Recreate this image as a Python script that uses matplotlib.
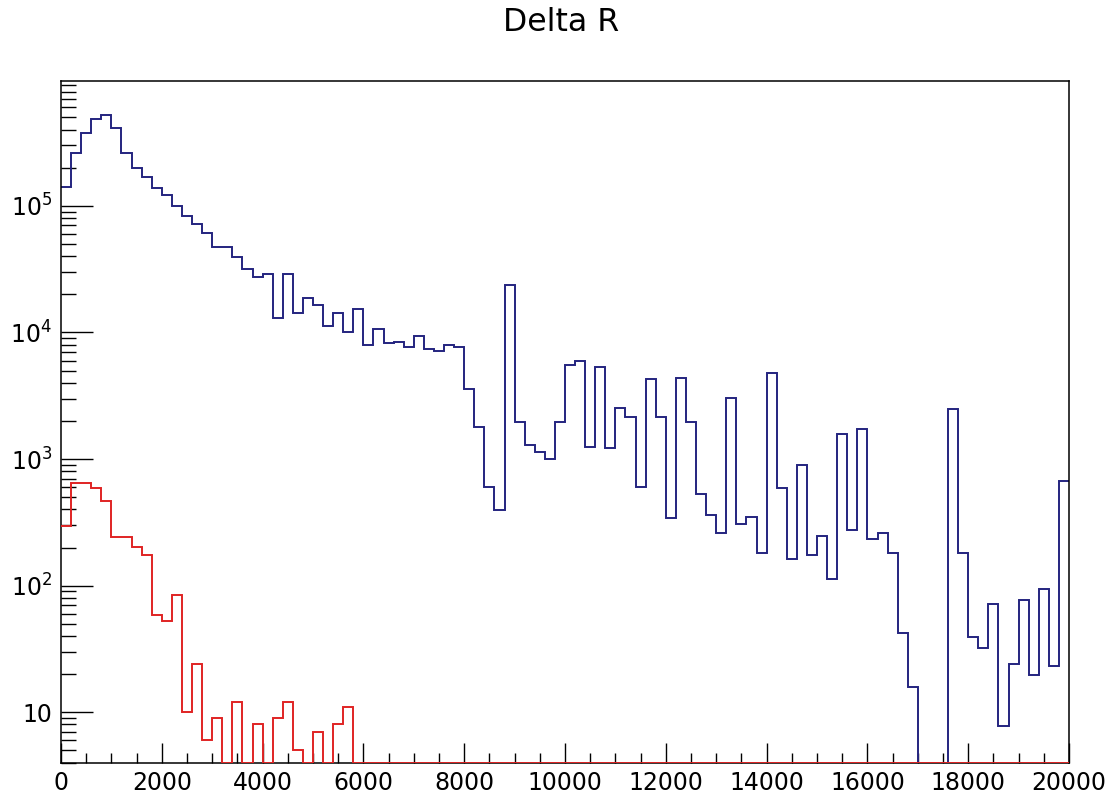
import numpy as np
from matplotlib import pyplot as plt
import matplotlib as mpl

plt.rcParams['font.family'] = ['DejaVu Sans']
plt.rcParams['mathtext.fontset'] = 'dejavusans'

# Histogram binning: 100 bins from 0 to 20000
X_MIN = 0
X_MAX = 20000
N_BINS = 100

# Blue histogram bin contents
blue_counts = [
    1.40e5, 2.6e5, 3.78e5, 4.85e5, 5.22e5, 4.15e5, 2.6e5, 2.0e5, 1.70e5, 1.39e5,
    1.22e5, 1.0e5, 8.3e4, 7.2e4, 6.08e4, 4.71e4, 4.71e4, 3.97e4, 3.18e4, 2.72e4,
    2.90e4, 1.29e4, 2.90e4, 1.43e4, 1.87e4, 1.64e4, 1.13e4, 1.43e4, 1.0e4, 1.53e4,
    7.96e3, 1.07e4, 8.22e3, 8.37e3, 7.73e3, 9.37e3, 7.41e3, 7.18e3, 7.96e3, 7.73e3,
    3.60e3, 1.79e3, 606, 396, 2.37e4, 1.97e3, 1.29e3, 1.14e3, 995, 1.97e3,
    5.53e3, 5.96e3, 1.25e3, 5.37e3, 1.22e3, 2.52e3, 2.14e3, 606, 4.27e3, 2.13e3,
    341, 4.37e3, 1.97e3, 530, 361, 259, 3.05e3, 306, 349, 180,
    4.82e3, 594, 163, 897, 175, 248, 113, 1.57e3, 275, 1.74e3,
    232, 259, 180, 42, 15.8, 0, 0, 0, 2.49e3, 180,
    39, 32.4, 71.3, 7.8, 24, 77, 19.7, 93.8, 23.3, 675,
]

# Red histogram bin contents (first 30 bins, rest empty)
red_counts = [
    296, 651, 651, 588, 467, 241, 241, 203, 175, 58.7,
    53, 84.5, 10, 24, 6, 9, 0, 12, 0, 8,
    0, 9, 12, 5, 0, 7, 0, 8, 11, 0,
] + [0] * 70

x_major = [0, 2000, 4000, 6000, 8000, 10000, 12000, 14000, 16000, 18000, 20000]
x_labels = ['0', '2000', '4000', '6000', '8000', '10000', '12000',
            '14000', '16000', '18000', '20000']
y_major = [10, 100, 1000, 10000, 100000]
y_labels = ['10', '$10^{2}$', '$10^{3}$', '$10^{4}$', '$10^{5}$']

Y_MIN = 3.95
Y_MAX = 9.75e5

edges = np.linspace(X_MIN, X_MAX, N_BINS + 1)

fig = plt.figure(figsize=(11.07, 7.94), dpi=100)
ax = fig.add_axes([0.0551, 0.0387, 0.9106, 0.8597])

# empty bins are drawn along the bottom of the frame, as ROOT does
blue = np.array(blue_counts, dtype=float)
red = np.array(red_counts, dtype=float)
blue[blue <= 0] = Y_MIN
red[red <= 0] = Y_MIN

ax.stairs(blue, edges, baseline=None, color='#24247f', linewidth=1.4, zorder=2)
ax.stairs(red, edges, baseline=None, color='#e02424', linewidth=1.4, zorder=3)

ax.set_yscale('log')
ax.set_xlim(X_MIN, X_MAX)
ax.set_ylim(Y_MIN, Y_MAX)

ax.xaxis.set_major_locator(mpl.ticker.FixedLocator(x_major))
ax.xaxis.set_major_formatter(mpl.ticker.FixedFormatter(x_labels))
ax.xaxis.set_minor_locator(mpl.ticker.MultipleLocator(500))
ax.yaxis.set_major_locator(mpl.ticker.FixedLocator(y_major))
ax.yaxis.set_major_formatter(mpl.ticker.FixedFormatter(y_labels))
ax.yaxis.set_minor_locator(mpl.ticker.LogLocator(base=10, subs=np.arange(2, 10)))
ax.yaxis.set_minor_formatter(mpl.ticker.NullFormatter())

ax.tick_params(axis='x', which='major', direction='in', length=14.5, width=1,
               labelsize=17, pad=5.5, top=False)
ax.tick_params(axis='x', which='minor', direction='in', length=7.2, width=1, top=False)
ax.tick_params(axis='y', which='major', direction='in', length=23, width=1,
               labelsize=17, pad=6.5, right=False)
ax.tick_params(axis='y', which='minor', direction='in', length=11, width=1, right=False)

for spine in ax.spines.values():
    spine.set_linewidth(1.1)
    spine.set_color('black')

fig.text(0.507, 0.972, 'Delta R', ha='center', va='center', fontsize=22.7)

plt.savefig('out.png', dpi=100)
